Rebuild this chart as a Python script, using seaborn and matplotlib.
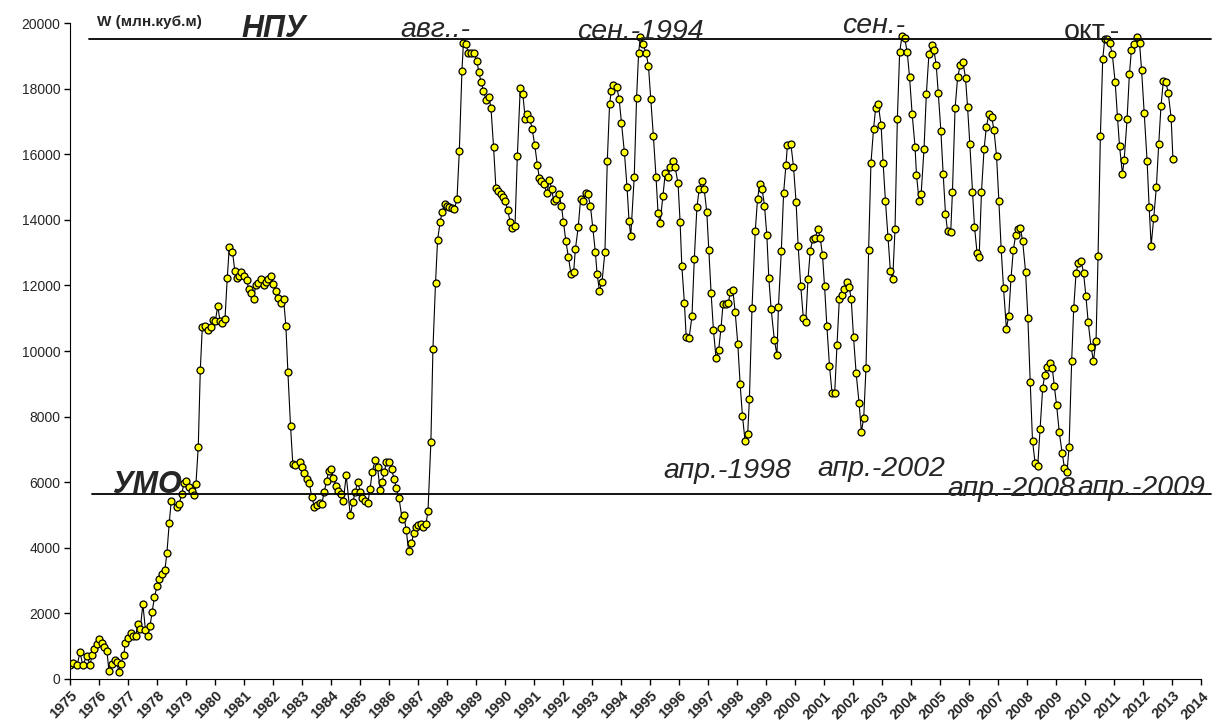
import matplotlib
matplotlib.use("Agg")
import matplotlib.pyplot as plt
import seaborn as sns
import numpy as np
import pandas as pd

# decimal year of each reading
years = [
    1975.00, 1975.11, 1975.25, 1975.34, 1975.44, 1975.58, 1975.69, 1975.76, 1975.84, 1975.92,
    1976.01, 1976.10, 1976.18, 1976.27, 1976.34, 1976.44, 1976.55, 1976.61, 1976.68, 1976.75,
    1976.85, 1976.91, 1976.99, 1977.09, 1977.16, 1977.27, 1977.33, 1977.42, 1977.51, 1977.60,
    1977.68, 1977.76, 1977.83, 1977.91, 1978.00, 1978.08, 1978.17, 1978.27, 1978.34, 1978.42,
    1978.49, 1978.68, 1978.76, 1978.85, 1978.93, 1978.99, 1979.10, 1979.20, 1979.28, 1979.34,
    1979.42, 1979.49, 1979.56, 1979.66, 1979.76, 1979.85, 1979.93, 1980.01, 1980.09, 1980.17,
    1980.25, 1980.34, 1980.42, 1980.49, 1980.60, 1980.68, 1980.76, 1980.84, 1980.91, 1981.00,
    1981.09, 1981.16, 1981.24, 1981.33, 1981.40, 1981.49, 1981.58, 1981.67, 1981.75, 1981.84,
    1981.93, 1982.01, 1982.09, 1982.18, 1982.27, 1982.36, 1982.44, 1982.51, 1982.60, 1982.68,
    1982.76, 1982.93, 1983.01, 1983.08, 1983.16, 1983.25, 1983.33, 1983.42, 1983.51, 1983.60,
    1983.68, 1983.76, 1983.85, 1983.91, 1983.99, 1984.08, 1984.17, 1984.25, 1984.33, 1984.42,
    1984.52, 1984.66, 1984.75, 1984.83, 1984.92, 1985.00, 1985.08, 1985.17, 1985.27, 1985.34,
    1985.42, 1985.52, 1985.60, 1985.69, 1985.75, 1985.84, 1985.90, 1986.00, 1986.09, 1986.17,
    1986.25, 1986.34, 1986.45, 1986.50, 1986.59, 1986.67, 1986.77, 1986.85, 1986.93, 1987.01,
    1987.09, 1987.17, 1987.27, 1987.34, 1987.44, 1987.51, 1987.60, 1987.67, 1987.76, 1987.83,
    1987.91, 1987.99, 1988.07, 1988.16, 1988.25, 1988.34, 1988.42, 1988.51, 1988.56, 1988.64,
    1988.73, 1988.83, 1988.92, 1989.02, 1989.09, 1989.17, 1989.25, 1989.34, 1989.44, 1989.51,
    1989.60, 1989.68, 1989.77, 1989.85, 1989.94, 1990.01, 1990.09, 1990.17, 1990.25, 1990.34,
    1990.42, 1990.52, 1990.61, 1990.69, 1990.77, 1990.85, 1990.93, 1991.02, 1991.11, 1991.18,
    1991.25, 1991.33, 1991.44, 1991.52, 1991.61, 1991.67, 1991.76, 1991.85, 1991.94, 1992.01,
    1992.09, 1992.18, 1992.27, 1992.36, 1992.42, 1992.52, 1992.60, 1992.69, 1992.77, 1992.85,
    1992.94, 1993.02, 1993.11, 1993.17, 1993.25, 1993.34, 1993.44, 1993.52, 1993.60, 1993.66,
    1993.73, 1993.85, 1993.93, 1994.01, 1994.11, 1994.20, 1994.27, 1994.33, 1994.45, 1994.53,
    1994.60, 1994.66, 1994.75, 1994.86, 1994.94, 1995.02, 1995.11, 1995.20, 1995.27, 1995.34,
    1995.44, 1995.52, 1995.61, 1995.69, 1995.78, 1995.86, 1995.96, 1996.03, 1996.09, 1996.18,
    1996.24, 1996.34, 1996.44, 1996.52, 1996.61, 1996.69, 1996.78, 1996.86, 1996.95, 1997.02,
    1997.10, 1997.18, 1997.27, 1997.36, 1997.44, 1997.51, 1997.60, 1997.69, 1997.76, 1997.85,
    1997.93, 1998.02, 1998.10, 1998.18, 1998.27, 1998.36, 1998.42, 1998.51, 1998.62, 1998.70,
    1998.77, 1998.86, 1998.94, 1999.02, 1999.09, 1999.17, 1999.28, 1999.37, 1999.42, 1999.52,
    1999.60, 1999.68, 1999.73, 1999.85, 1999.94, 2000.03, 2000.10, 2000.19, 2000.28, 2000.36,
    2000.44, 2000.52, 2000.60, 2000.69, 2000.78, 2000.86, 2000.94, 2001.01, 2001.09, 2001.18,
    2001.27, 2001.36, 2001.44, 2001.52, 2001.60, 2001.68, 2001.77, 2001.86, 2001.93, 2002.01,
    2002.10, 2002.20, 2002.28, 2002.36, 2002.44, 2002.53, 2002.61, 2002.70, 2002.77, 2002.86,
    2002.96, 2003.03, 2003.11, 2003.20, 2003.28, 2003.36, 2003.44, 2003.52, 2003.60, 2003.68,
    2003.77, 2003.86, 2003.94, 2004.03, 2004.13, 2004.18, 2004.27, 2004.34, 2004.44, 2004.52,
    2004.61, 2004.70, 2004.78, 2004.86, 2004.93, 2005.02, 2005.10, 2005.18, 2005.25, 2005.36,
    2005.42, 2005.51, 2005.60, 2005.69, 2005.78, 2005.87, 2005.94, 2006.02, 2006.11, 2006.18,
    2006.27, 2006.34, 2006.42, 2006.51, 2006.59, 2006.68, 2006.77, 2006.85, 2006.94, 2007.02,
    2007.10, 2007.18, 2007.28, 2007.36, 2007.44, 2007.52, 2007.60, 2007.68, 2007.76, 2007.84,
    2007.94, 2008.02, 2008.10, 2008.18, 2008.27, 2008.36, 2008.44, 2008.53, 2008.60, 2008.68,
    2008.77, 2008.86, 2008.93, 2009.01, 2009.10, 2009.20, 2009.28, 2009.37, 2009.44, 2009.53,
    2009.60, 2009.68, 2009.75, 2009.86, 2009.94, 2010.02, 2010.10, 2010.20, 2010.28, 2010.37,
    2010.44, 2010.52, 2010.60, 2010.67, 2010.76, 2010.84, 2010.93, 2011.03, 2011.11, 2011.18,
    2011.28, 2011.34, 2011.44, 2011.52, 2011.59, 2011.67, 2011.78, 2011.87, 2011.94, 2012.03,
    2012.13, 2012.20, 2012.27, 2012.36, 2012.45, 2012.53, 2012.61, 2012.69, 2012.78, 2012.86,
    2012.96, 2013.02,
]

# reservoir volume W, mln m3
volume = [
    430, 500, 430, 815, 430, 710, 430, 730, 915, 1060,
    1210, 1090, 985, 865, 245, 450, 570, 530, 225, 455,
    740, 1110, 1260, 1390, 1310, 1310, 1680, 1515, 2280, 1495,
    1320, 1625, 2050, 2490, 2845, 3040, 3200, 3325, 3850, 4765,
    5440, 5235, 5330, 5630, 5990, 6040, 5865, 5740, 5610, 5950,
    7085, 9425, 10745, 10765, 10645, 10745, 10950, 10915, 11375, 10915,
    10865, 10970, 12230, 13180, 13030, 12440, 12240, 12290, 12400, 12290,
    12170, 11885, 11780, 11595, 12015, 12085, 12190, 12015, 12095, 12190,
    12300, 12055, 11840, 11610, 11460, 11590, 10775, 9350, 7725, 6545,
    6525, 6610, 6450, 6265, 6085, 5965, 5560, 5255, 5305, 5355,
    5330, 5710, 6035, 6345, 6405, 6140, 5885, 5740, 5640, 5430,
    6210, 5000, 5390, 5710, 6020, 5710, 5505, 5440, 5380, 5795,
    6320, 6680, 6450, 5760, 5995, 6320, 6610, 6610, 6405, 6090,
    5815, 5510, 4870, 5000, 4545, 3910, 4135, 4460, 4645, 4700,
    4740, 4645, 4725, 5125, 7235, 10065, 12085, 13385, 13945, 14250,
    14470, 14430, 14400, 14350, 14330, 14635, 16110, 18540, 19385, 19355,
    19100, 19080, 19080, 18855, 18520, 18190, 17940, 17660, 17740, 17420,
    16220, 14985, 14865, 14785, 14710, 14560, 14285, 13945, 13745, 13825,
    15950, 18010, 17840, 17080, 17230, 17080, 16770, 16280, 15670, 15265,
    15185, 15095, 14810, 15215, 14930, 14560, 14625, 14785, 14425, 13925,
    13365, 12865, 12340, 12400, 13100, 13790, 14635, 14585, 14830, 14785,
    14425, 13760, 13010, 12340, 11840, 12115, 13030, 15780, 17535, 17935,
    18115, 18040, 17675, 16950, 16060, 15015, 13975, 13505, 15315, 17705,
    19080, 19570, 19355, 19080, 18690, 17675, 16545, 15315, 14220, 13895,
    14740, 15420, 15315, 15620, 15780, 15600, 15110, 13945, 12595, 11455,
    10440, 10390, 11055, 12800, 14380, 14940, 15185, 14940, 14250, 13065,
    11760, 10645, 9775, 10030, 10690, 11420, 11435, 11455, 11790, 11860,
    11180, 10215, 8995, 8030, 7260, 7465, 8530, 11315, 13645, 14625,
    15085, 14930, 14430, 13540, 12215, 11270, 10340, 9880, 11335, 13060,
    14830, 15670, 16280, 16310, 15620, 14530, 13210, 11985, 10995, 10870,
    12195, 13060, 13400, 13455, 13720, 13455, 12920, 11985, 10775, 9555,
    8710, 8710, 10185, 11580, 11710, 11890, 12115, 11945, 11580, 10420,
    9320, 8425, 7540, 7950, 9495, 13080, 15725, 16770, 17400, 17520,
    16890, 15725, 14575, 13465, 12440, 12190, 13710, 17070, 19110, 19600,
    19550, 19120, 18360, 17230, 16230, 15365, 14585, 14785, 16160, 17840,
    19060, 19330, 19180, 18720, 17880, 16720, 15395, 14190, 13660, 13620,
    14860, 17400, 18360, 18720, 18820, 18330, 17450, 16300, 14860, 13790,
    12975, 12855, 14845, 16160, 16840, 17230, 17150, 16740, 15950, 14575,
    13100, 11930, 10675, 11080, 12240, 13085, 13540, 13710, 13745, 13355,
    12420, 11015, 9070, 7260, 6575, 6495, 7610, 8865, 9270, 9505,
    9625, 9495, 8945, 8355, 7540, 6900, 6445, 6320, 7065, 9705,
    11300, 12365, 12670, 12745, 12365, 11685, 10870, 10110, 9705, 10310,
    12900, 16570, 18900, 19510, 19510, 19385, 19050, 18190, 17120, 16250,
    15400, 15825, 17070, 18435, 19180, 19360, 19570, 19385, 18570, 17250,
    15800, 14405, 13215, 14070, 15000, 16300, 17480, 18220, 18190, 17860,
    17100, 15860,
]

npu_level = 19500   # НПУ
umo_level = 5640    # УМО

year_ticks = list(range(1975, 2015))
y_ticks = list(range(0, 20001, 2000))

# labels of extremes: (text, x, y, italic)
notes = [
    ("авг..-", 1986.38, 19575, True),
    ("сен.-1994", 1992.48, 19515, True),
    ("сен.-", 2001.62, 19700, True),
    ("окт.-", 2009.24, 19515, False),
    ("апр.-1998", 1995.45, 6130, True),
    ("апр.-2002", 2000.76, 6190, True),
    ("апр.-2008", 2005.24, 5580, True),
    ("апр.-2009", 2009.72, 5610, True),
]

df = pd.DataFrame({"year": years, "W": volume})

sns.set_style("white")
plt.rcParams['font.family'] = ['Liberation Sans', 'DejaVu Sans']

fig = plt.figure(figsize=(12.12, 7.22), dpi=100)
ax = fig.add_axes([0.0578, 0.0596, 0.9334, 0.9085])

sns.lineplot(data=df, x="year", y="W", ax=ax, sort=False, estimator=None,
             color="black", linewidth=0.8, marker="o", markersize=5,
             markerfacecolor="#ffff00", markeredgecolor="black", markeredgewidth=0.9)

# reference levels, they run past the axis to the edge of the picture
ax.plot([1975.66, 2014.35], [npu_level, npu_level], color="black", lw=1.3, clip_on=False)
ax.plot([1975.76, 2014.35], [umo_level, umo_level], color="black", lw=1.3, clip_on=False)

ax.set_xlim(1975, 2014)
ax.set_ylim(0, 20000)
ax.set_xticks(year_ticks)
ax.set_xticklabels([str(y) for y in year_ticks], rotation=45, ha="right",
                   rotation_mode="anchor", fontsize=10.5, fontweight="bold")
ax.set_yticks(y_ticks)
ax.set_yticklabels([str(v) for v in y_ticks], fontsize=10)
ax.tick_params(axis="both", direction="out", length=4, width=1, color="black",
               bottom=True, left=True, pad=3)
ax.set_xlabel("")
ax.set_ylabel("")
sns.despine(ax=ax)
ax.spines["left"].set_color("black")
ax.spines["bottom"].set_color("black")

ax.text(1975.93, 20030, "W (млн.куб.м)", fontsize=11, fontweight="bold", va="center", ha="left")
ax.text(1980.90, 19560, "НПУ", fontsize=22, fontweight="bold", fontstyle="italic", va="baseline")
ax.text(1976.45, 5670, "УМО", fontsize=22, fontweight="bold", fontstyle="italic", va="baseline")
for txt, xx, yy, ital in notes:
    ax.text(xx, yy, txt, fontsize=20.5, fontstyle="italic" if ital else "normal", va="baseline")

fig.savefig("out.png", dpi=100)
